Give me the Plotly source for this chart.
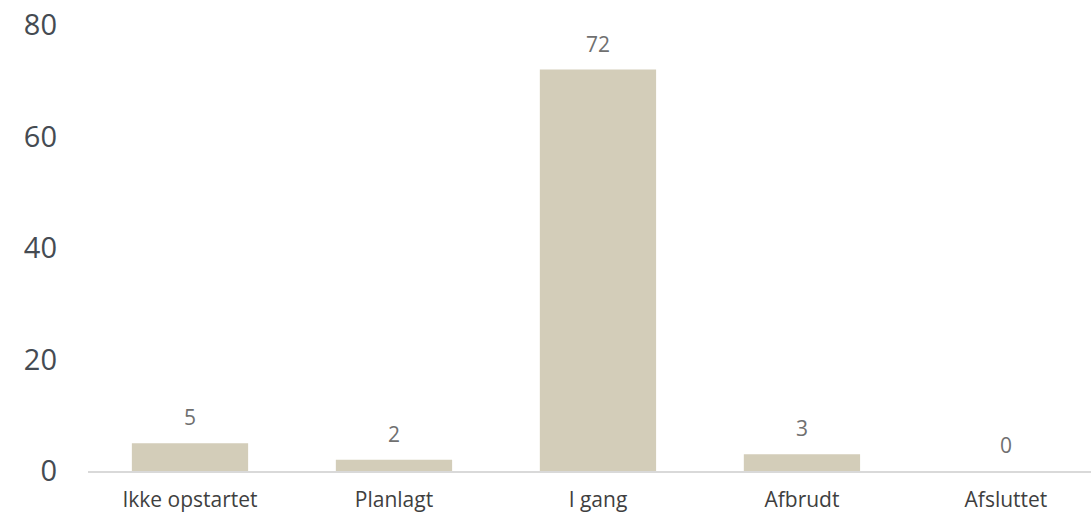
import plotly.graph_objects as go

categories = ["Ikke opstartet", "Planlagt", "I gang", "Afbrudt", "Afsluttet"]
values = [5, 2, 72, 3, 0]
y_ticks = [0, 20, 40, 60, 80]

bar_color = "#D3CDB9"
font_family = "Open Sans, Noto Sans, sans-serif"

fig = go.Figure()
fig.add_trace(go.Bar(
    x=categories,
    y=values,
    marker=dict(color=bar_color, line=dict(width=0)),
    hoverinfo="skip",
))

for c, v in zip(categories, values):
    fig.add_annotation(
        x=c, y=v, text=str(v), showarrow=False,
        yanchor="middle", yshift=26,
        font=dict(family=font_family, size=21, color="#707070"),
    )

fig.update_layout(
    width=1091, height=515,
    margin=dict(l=88, r=0, t=25, b=44),
    paper_bgcolor="white", plot_bgcolor="white",
    showlegend=False,
    bargap=0.43,
    font=dict(family=font_family),
)
fig.update_xaxes(
    type="category",
    range=[-0.5, 4.417],
    automargin=False,
    showgrid=False, zeroline=False,
    showline=True, linecolor="#D9D9D9", linewidth=1.5,
    ticks="", ticklabelstandoff=9,
    ticklabeloverflow="allow",
    tickfont=dict(family=font_family, size=21, color="#3F3F3F"),
)
fig.update_yaxes(
    range=[0, 80],
    tickvals=y_ticks,
    automargin=False,
    showgrid=False, zeroline=False, showline=False,
    ticks="", ticklabelstandoff=30,
    ticklabeloverflow="allow",
    tickfont=dict(family=font_family, size=29, color="#454B52"),
)

fig.write_html(
    "out.html",
    config={"displayModeBar": False},
    post_script="document.body.style.margin='0';",
)
